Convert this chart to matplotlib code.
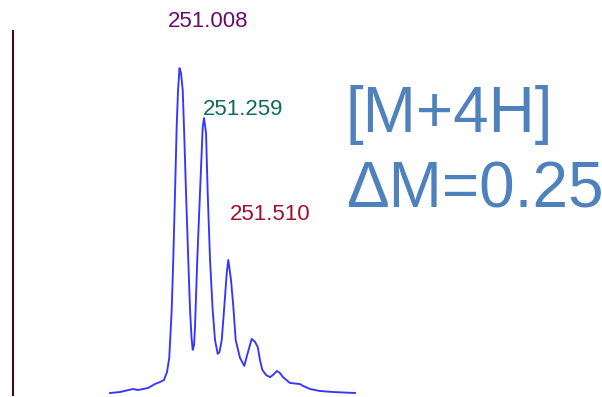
import matplotlib
matplotlib.use("Agg")
import matplotlib.pyplot as plt

# m/z and relative intensity
mz = [250.296, 250.398, 250.531, 250.583, 250.685, 250.757, 250.808, 250.849,
      250.880, 250.903, 250.928, 250.944, 250.962, 250.979, 250.993, 251.008,
      251.023, 251.041, 251.054, 251.075, 251.098, 251.116, 251.131, 251.143,
      251.157, 251.167, 251.190, 251.218, 251.246, 251.259, 251.280, 251.297,
      251.321, 251.348, 251.372, 251.400, 251.418, 251.441, 251.467, 251.492,
      251.508, 251.536, 251.560, 251.584, 251.628, 251.672, 251.707, 251.748,
      251.782, 251.810, 251.833, 251.857, 251.895, 251.936, 251.966, 252.007,
      252.038, 252.069, 252.141, 252.243, 252.274, 252.346, 252.448, 252.581,
      252.807]
intensity = [0.55, 0.82, 1.65, 1.37, 1.92, 3.02, 3.57, 4.12,
             6.32, 10.2, 23.4, 37.1, 55.5, 73.6, 83.8, 89.8,
             88.5, 83.8, 73.6, 55.5, 37.1, 23.4, 15.9, 12.4,
             13.7, 18.7, 37.1, 55.5, 73.6, 76.1, 72.0, 55.5,
             37.1, 23.4, 15.1, 11.3, 11.8, 15.1, 24.2, 33.5,
             37.1, 31.6, 24.2, 15.1, 10.2, 8.0, 11.5, 15.4,
             14.6, 13.2, 9.6, 6.9, 5.5, 4.9, 5.5, 6.6,
             6.0, 4.9, 3.3, 3.0, 2.5, 1.65, 1.1, 0.82,
             0.55]

peak_labels = ["251.008", "251.259", "251.510"]
label_x = [250.890, 251.249, 251.526]
label_y = [102.7, 78.3, 49.7]
label_colors = ["#6b0a6b", "#0b6b5e", "#a0102a"]

title_lines = ["[M+4H]", "\u0394M=0.25"]

W, H = 602, 397
fig = plt.figure(figsize=(W / 100, H / 100), dpi=100)
ax = fig.add_axes([13 / W, 2 / H, (600 - 13) / W, (395 - 31) / H])

slope = 0.01025
ax.set_xlim(251.008 - (179.5 - 13) * slope, 251.008 + (600 - 179.5) * slope)
ax.set_ylim(0, 100)

ax.plot(mz, intensity, color="#3535ff", lw=1.35, solid_joinstyle="round")

for t, x, y, c in zip(peak_labels, label_x, label_y, label_colors):
    ax.text(x, y, t, color=c, fontsize=16, ha="left", va="center",
            family="Liberation Sans", clip_on=False)

for sp in ["top", "right", "bottom"]:
    ax.spines[sp].set_visible(False)
ax.spines["left"].set_color("#3d0c12")
ax.spines["left"].set_linewidth(1.5)
ax.set_xticks([])
ax.set_yticks([])
ax.patch.set_alpha(0)

fig.text(346 / W, (H - 132) / H, title_lines[0], color="#4f81bd", fontsize=46,
         ha="left", va="baseline", family="Liberation Sans")
fig.text(346 / W, (H - 207) / H, title_lines[1], color="#4f81bd", fontsize=46,
         ha="left", va="baseline", family="Liberation Sans")

fig.savefig("out.png", dpi=100)
